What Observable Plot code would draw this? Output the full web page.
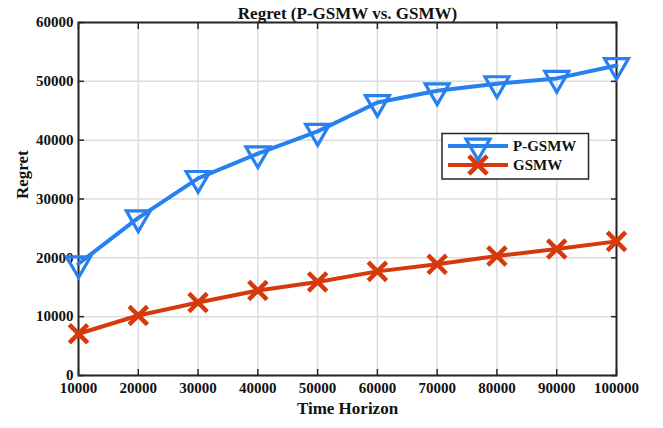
<!DOCTYPE html>
<html>
<head>
<meta charset="utf-8">
<script src="https://cdn.jsdelivr.net/npm/d3@7"></script>
<script src="https://cdn.jsdelivr.net/npm/@observablehq/plot@0.6"></script>
<style>
  html, body { margin: 0; padding: 0; background: #fff; }
  #chart { width: 663px; height: 428px; }
</style>
</head>
<body>
<div id="chart"></div>
<script>
const timeHorizon = [10000, 20000, 30000, 40000, 50000, 60000, 70000, 80000, 90000, 100000];
const pgsmw = [19000, 26800, 33500, 37700, 41500, 46400, 48400, 49600, 50500, 52700];
const gsmw  = [7100, 10200, 12400, 14450, 15900, 17700, 18900, 20300, 21500, 22800];
const xTicks = [10000, 20000, 30000, 40000, 50000, 60000, 70000, 80000, 90000, 100000];
const yTicks = [0, 10000, 20000, 30000, 40000, 50000, 60000];
const seriesNames = ["P-GSMW", "GSMW"];
const titleText = "Regret (P-GSMW vs. GSMW)";
const xLabel = "Time Horizon";
const yLabel = "Regret";

const BLUE = "#2680f0";
const RED = "#d63a0c";
const AXIS = "#262626";
const FONT = "'Liberation Serif', 'Times New Roman', serif";

const dataP = timeHorizon.map((t, i) => ({t, v: pgsmw[i]}));
const dataG = timeHorizon.map((t, i) => ({t, v: gsmw[i]}));

const tickStyle = {stroke: AXIS, strokeWidth: 1.5, text: null, label: null, tickSize: 6, ticks: xTicks};
const txt = {fontFamily: FONT, fontWeight: "bold", fill: "#111"};

const plot = Plot.plot({
  width: 663,
  height: 428,
  marginLeft: 78,
  marginRight: 47,
  marginTop: 22,
  marginBottom: 53,
  style: {fontFamily: FONT, background: "#fff"},
  x: {type: "linear", domain: [10000, 100000], label: null},
  y: {type: "linear", domain: [0, 60000], label: null},
  marks: [
    Plot.gridX(xTicks, {stroke: "#dcdcdc", strokeOpacity: 1, strokeWidth: 1.5}),
    Plot.gridY(yTicks, {stroke: "#dcdcdc", strokeOpacity: 1, strokeWidth: 1.5}),
    // inward ticks on all four sides
    Plot.axisX({...tickStyle, anchor: "bottom", dy: -6}),
    Plot.axisX({...tickStyle, anchor: "top", dy: 6}),
    Plot.axisY({...tickStyle, ticks: yTicks, anchor: "left", dx: 6}),
    Plot.axisY({...tickStyle, ticks: yTicks, anchor: "right", dx: -6}),
    // tick labels
    Plot.axisX({anchor: "bottom", ticks: xTicks, tickSize: 0, tickPadding: 7, tickFormat: d => String(d),
      label: null, fontSize: 15, ...txt}),
    Plot.axisY({anchor: "left", ticks: yTicks, tickSize: 0, tickPadding: 5, tickFormat: d => String(d),
      label: null, fontSize: 15, ...txt}),
    Plot.frame({stroke: AXIS, strokeWidth: 2}),
    // series
    Plot.line(dataG, {x: "t", y: "v", stroke: RED, strokeWidth: 4}),
    Plot.dot(dataG, {x: "t", y: "v", symbol: d3.symbolTimes, r: 8.4, stroke: RED, strokeWidth: 4.5, fill: "none"}),
    Plot.line(dataP, {x: "t", y: "v", stroke: BLUE, strokeWidth: 4}),
    Plot.dot(dataP, {x: "t", y: "v", symbol: d3.symbolTriangle, rotate: 180, r: 8.9, stroke: BLUE, strokeWidth: 3.2, fill: "none"}),
    // title and axis labels
    Plot.text([titleText], {frameAnchor: "top", lineAnchor: "bottom", dy: -4, fontSize: 17, ...txt}),
    Plot.text([xLabel], {frameAnchor: "bottom", lineAnchor: "bottom", dy: 38, fontSize: 17, ...txt}),
    Plot.text([yLabel], {frameAnchor: "left", lineAnchor: "middle", rotate: -90, dx: -56, fontSize: 17, ...txt})
  ]
});

// legend drawn inside the plot's svg
const svg = d3.select(plot);
const lg = svg.append("g").attr("transform", "translate(442,133.5)");
lg.append("rect").attr("width", 146.5).attr("height", 45.5)
  .attr("fill", "#fff").attr("stroke", AXIS).attr("stroke-width", 1.5);
const legendItems = [
  {name: seriesNames[0], color: BLUE, sym: d3.symbolTriangle, rot: 180, sw: 3.2, y: 12.5},
  {name: seriesNames[1], color: RED, sym: d3.symbolTimes, rot: 0, sw: 4.5, y: 31.5}
];
legendItems.forEach(it => {
  lg.append("line").attr("x1", 6).attr("x2", 66).attr("y1", it.y).attr("y2", it.y)
    .attr("stroke", it.color).attr("stroke-width", 4);
  const rr = it.sym === d3.symbolTimes ? 8.4 : 8.9;
  lg.append("path").attr("d", d3.symbol(it.sym, rr * rr * Math.PI)())
    .attr("transform", `translate(36,${it.y}) rotate(${it.rot})`)
    .attr("fill", "none").attr("stroke", it.color).attr("stroke-width", it.sw);
  lg.append("text").attr("x", 71).attr("y", it.y).attr("dy", "0.32em")
    .attr("text-anchor", "start")
    .attr("font-family", FONT).attr("font-weight", "bold").attr("font-size", 15)
    .attr("fill", "#111").text(it.name);
});

document.getElementById("chart").appendChild(plot);
</script>
</body>
</html>
